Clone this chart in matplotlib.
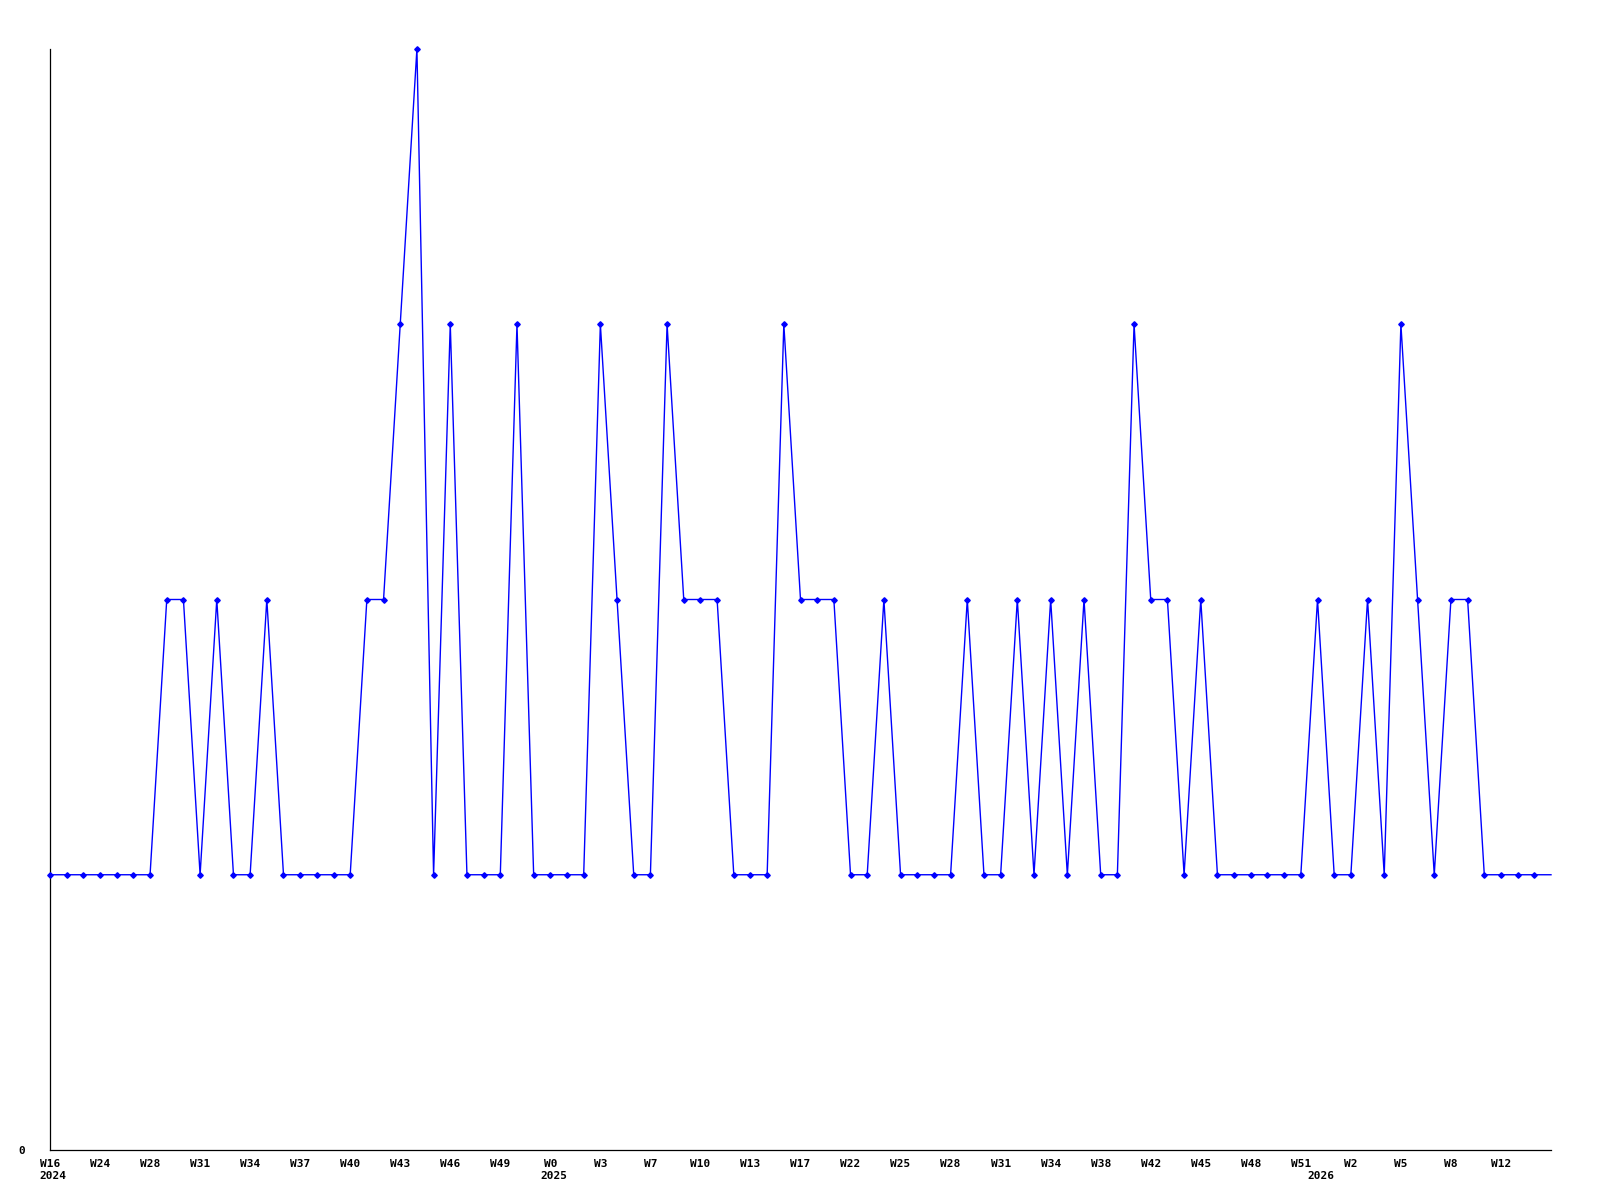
import matplotlib
matplotlib.use("Agg")
import matplotlib.pyplot as plt
from matplotlib.ticker import FixedLocator, FixedFormatter

# ---- data -------------------------------------------------------------
values = [1, 1, 1, 1, 1, 1, 1, 2, 2, 1,
          2, 1, 1, 2, 1, 1, 1, 1, 1, 2,
          2, 3, 4, 1, 3, 1, 1, 1, 3, 1,
          1, 1, 1, 3, 2, 1, 1, 3, 2, 2,
          2, 1, 1, 1, 3, 2, 2, 2, 1, 1,
          2, 1, 1, 1, 1, 2, 1, 1, 2, 1,
          2, 1, 2, 1, 1, 3, 2, 2, 1, 2,
          1, 1, 1, 1, 1, 1, 2, 1, 1, 2,
          1, 3, 2, 1, 2, 2, 1, 1, 1, 1,
          1]

week_tick_idx = [0, 3, 6, 9, 12, 15, 18, 21, 24, 27, 30, 33, 36, 39, 42,
                 45, 48, 51, 54, 57, 60, 63, 66, 69, 72, 75, 78, 81, 84, 87]
week_labels = ["W16", "W24", "W28", "W31", "W34", "W37", "W40", "W43", "W46",
               "W49", "W0", "W3", "W7", "W10", "W13", "W17", "W22", "W25",
               "W28", "W31", "W34", "W38", "W42", "W45", "W48", "W51", "W2",
               "W5", "W8", "W12"]
year_tick_idx = [0, 30, 76]
year_labels = ["2024", "2025", "2026"]

# ---- figure -----------------------------------------------------------
fig = plt.figure(figsize=(16, 12), dpi=100)
ax = fig.add_axes([50 / 1600, 50 / 1200, 1501 / 1600, 1101 / 1200])

x = list(range(len(values)))
ax.plot(x, values, color="#0000ff", linewidth=1.0, marker="D",
        markersize=2.8, markevery=list(range(len(values) - 1)),
        clip_on=False, zorder=3)

ax.set_xlim(0, len(values) - 1)
ax.set_ylim(0, 4)

for s in ("top", "right"):
    ax.spines[s].set_visible(False)
for s in ("left", "bottom"):
    ax.spines[s].set_color("black")
    ax.spines[s].set_linewidth(0.9)

font = dict(family="DejaVu Sans Mono", weight="bold", size=8)

ax.xaxis.set_major_locator(FixedLocator(week_tick_idx))
ax.xaxis.set_major_formatter(FixedFormatter(week_labels))
ax.tick_params(axis="x", which="both", length=0, pad=6.2)
for lab in ax.get_xticklabels():
    lab.set_fontfamily(font["family"])
    lab.set_fontweight(font["weight"])
    lab.set_fontsize(font["size"])

# year labels below the week labels
for idx, yr in zip(year_tick_idx, year_labels):
    ax.annotate(yr, xy=(idx, 0), xycoords=("data", "axes fraction"),
                xytext=(2.2, -18.5), textcoords="offset points",
                ha="center", va="center", annotation_clip=False, **font)

ax.set_yticks([0])
ax.set_yticklabels(["0"], **font)
ax.tick_params(axis="y", length=0, pad=18)

fig.savefig("out.png", dpi=100, facecolor="white")
